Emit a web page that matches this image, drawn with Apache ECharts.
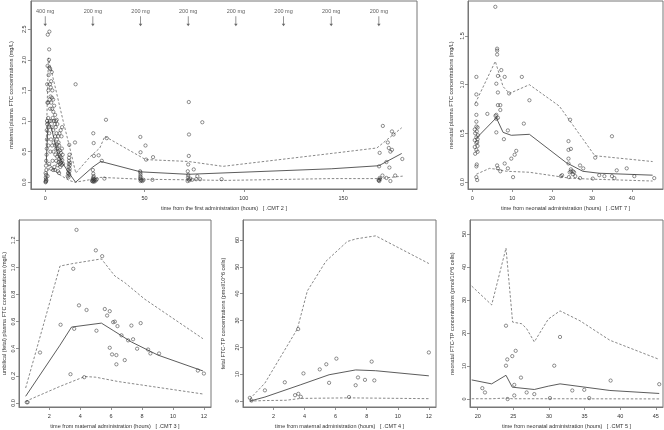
<!DOCTYPE html>
<html><head><meta charset="utf-8">
<script src="https://cdn.jsdelivr.net/npm/echarts@6/dist/echarts.min.js"></script>
<style>html,body{margin:0;padding:0;background:#fff}#c{width:664px;height:430px}</style>
</head><body><div id="c"></div>
<script>
// ---------- Panel 1: maternal plasma FTC (CMT 2) ----------
const maternalObs = [
[0.2,0.0],[0.3,0.02],[0.4,0.05],[0.3,0.08],[0.5,0.12],[0.2,0.15],[0.6,0.2],[0.4,0.27],[0.5,0.35],[0.7,0.45],[0.3,0.01],[0.6,0.03],[0.8,0.55],[0.9,0.7],[0.8,0.85],[1.0,0.95],[0.9,1.0],[1.1,1.3],[1.0,1.6],[1.2,1.9],[1.3,2.41],[2.1,2.46],
[1.5,1.3],[1.5,1.05],[1.6,1.5],[1.7,1.75],[1.6,0.6],[1.8,0.9],[1.9,2.0],[2.0,2.17],[2.1,1.87],[2.2,1.35],[2.0,0.8],[2.3,1.0],[2.4,1.6],[2.5,1.85],[2.5,1.2],[2.6,0.5],[2.7,1.4],[2.8,1.55],[2.9,0.7],[3.0,1.65],[3.0,1.3],[3.1,1.0],[3.2,0.9],[3.3,1.8],[3.4,1.38],[3.5,1.2],[3.5,0.6],[3.6,1.5],[3.7,0.35],[3.8,1.05],
[4.0,1.35],[4.0,0.85],[4.1,1.15],[4.2,0.5],[4.3,0.65],[4.4,1.0],[4.5,1.25],[4.6,0.25],[4.8,0.95],[5.0,1.1],[5.0,0.75],[5.1,0.45],[5.2,0.6],[5.3,0.9],[5.4,1.0],[5.5,0.35],[5.6,0.55],[5.7,0.8],[5.8,1.02],[5.9,0.7],[6.0,0.62],[6.0,0.42],[6.1,0.95],[6.2,0.55],[6.3,0.28],
[6.5,0.75],[6.6,0.5],[6.7,0.65],[6.8,0.33],[6.9,0.45],[7.0,0.6],[7.1,0.38],[7.2,0.8],[7.3,0.3],[7.4,0.52],[7.5,0.42],[7.6,0.25],[7.7,0.35],[7.8,0.85],[7.9,0.48],[8.0,0.32],[8.1,0.4],[8.2,0.75],[8.3,0.28],[8.4,0.55],[8.5,0.9],[8.6,0.36],[8.8,0.45],[9.0,0.3],
[1.2,0.1],[2.0,0.3],[3.0,0.22],[4.0,0.2],[5.0,0.2],[6.5,0.18],[7.0,0.15],
[11.3,0.1],[11.5,0.15],[11.6,0.2],[11.8,0.25],[11.9,0.3],[12.0,0.35],[12.1,0.12],[12.2,0.18],[12.3,0.22],[12.4,0.28],[12.0,0.4],[11.7,0.08],[12.5,0.32],[12.2,0.45],[12.1,0.61],[11.9,0.14],
[15.0,0.65],[15.3,1.6],
[23.6,0.02],[23.8,0.04],[24.0,0.01],[24.1,0.06],[24.2,0.03],[24.3,0.08],[24.5,0.02],[24.6,0.05],[24.8,0.01],[25.0,0.04],[24.4,0.1],[24.2,0.14],[24.0,0.2],[24.2,0.8],[24.4,0.64],[24.5,0.43],[26.9,0.44],[28.5,0.35],[29.8,0.06],[30.6,1.02],[31.0,0.72],[25.5,0.03],[26.0,0.05],
[47.9,0.74],[48.0,0.49],[47.8,0.18],[47.9,0.16],[48.0,0.13],[47.9,0.1],[48.1,0.08],[47.8,0.06],[48.2,0.04],[48.0,0.02],[48.5,0.03],[49.0,0.02],[49.5,0.04],[50.5,0.6],[50.8,0.37],[54.3,0.41],[54.0,0.04],
[72.3,1.31],[72.4,0.78],[72.3,0.43],[72.0,0.29],[71.8,0.18],[72.0,0.12],[71.9,0.08],[72.2,0.05],[72.5,0.03],[71.7,0.02],[73.0,0.06],[74.0,0.04],[74.8,0.21],[76.6,0.1],[76.0,0.05],[78.0,0.05],[79.1,0.98],[88.8,0.05],
[170.0,0.92],[174.6,0.83],[175.4,0.78],[172.5,0.65],[173.0,0.56],[174.6,0.53],[173.8,0.50],[168.4,0.48],[171.8,0.33],[179.8,0.38],[168.1,0.26],[173.3,0.24],[169.8,0.11],[168.4,0.07],[168.0,0.04],[168.2,0.02],[168.6,0.05],[167.9,0.03],[173.8,0.02],[176.2,0.11],[171.8,0.07]
];
const maternalMedian = [[0.5,0.3],[1.5,1.0],[3,0.9],[6,0.5],[8,0.35],[12,0.15],[15.3,0.0],[24,0.25],[28,0.34],[48,0.17],[72,0.13],[144,0.22],[168,0.27],[179.5,0.47]];
const maternalUpper = [[0.5,0.6],[1.6,2.03],[8.9,1.02],[13,0.48],[15.4,0.15],[22.7,0.42],[27.5,0.56],[30,0.75],[50.6,0.37],[72,0.34],[89.5,0.26],[144,0.47],[167,0.56],[179.5,0.89]];
const maternalLower = [[0.5,0.05],[2,0.3],[6,0.15],[12,0.03],[15,0.0],[24,0.05],[28,0.08],[48,0.05],[72,0.04],[90,0.03],[144,0.06],[168,0.06],[180,0.1]];
const doseTimes = [0,24,48,72,96,120,144,168];
const doseLabels = ['400 mg','200 mg','200 mg','200 mg','200 mg','200 mg','200 mg','200 mg'];
const xTicks1 = [0,50,100,150];
const yTicks1 = [0,0.5,1,1.5,2,2.5];

// ---------- Panel 2: neonatal plasma FTC (CMT 7) ----------
const neoObs = [
[5.75,1.80],[6.2,1.37],[6.2,1.35],[6.2,1.31],[7.25,1.15],[6.4,1.09],[8.1,1.08],[1.0,1.08],[12.4,1.08],[6.0,1.01],[1.0,0.90],[6.4,0.92],[9.2,0.91],[1.0,0.80],[14.3,0.84],[6.4,0.79],[7.0,0.79],[7.0,0.74],[3.75,0.70],[1.0,0.69],[6.0,0.69],[5.8,0.68],[6.4,0.66],[6.0,0.65],
[1.0,0.62],[1.0,0.57],[1.3,0.56],[0.6,0.54],[1.1,0.52],[0.7,0.50],[1.4,0.48],[1.0,0.46],[1.3,0.44],[0.6,0.43],[1.2,0.41],[1.0,0.40],[1.3,0.37],[0.6,0.36],[1.0,0.33],[1.3,0.31],[0.7,0.29],
[6.0,0.51],[8.9,0.53],[12.9,0.60],[7.9,0.44],[11.0,0.32],[10.6,0.28],[9.75,0.24],[8.1,0.19],[8.9,0.14],[10.2,0.05],[6.2,0.17],[6.4,0.14],[7.0,0.11],[1.1,0.18],[1.0,0.16],[1.0,0.05],[1.2,0.02],[22.2,0.06],
[24.5,0.64],[35.0,0.47],[24.1,0.42],[24.1,0.33],[24.7,0.34],[24.1,0.24],[30.8,0.25],[24.1,0.19],[24.7,0.13],[25.2,0.11],[24.7,0.11],[25.5,0.10],[25.2,0.08],[24.4,0.10],[25.8,0.06],[27.0,0.17],[27.8,0.14],[38.7,0.14],[36.2,0.12],[22.5,0.07],[24.2,0.05],[30.2,0.035],[31.8,0.07],[33.1,0.06],[35.0,0.06],[35.6,0.04],[27.0,0.04],[40.6,0.06],[45.6,0.04]
];
const neoMedian = [[1.0,0.45],[6,0.66],[7.7,0.51],[9.75,0.48],[14.3,0.49],[23.5,0.2],[27.7,0.11],[31.8,0.09],[45.2,0.07]];
const neoUpper = [[0.75,0.81],[5.75,1.24],[7.7,0.98],[9.3,0.91],[14.3,1.0],[21.8,0.78],[30.7,0.27],[45.2,0.21]];
const neoLower = [[1.0,0.08],[4.3,0.14],[6.2,0.13],[8.6,0.11],[14.3,0.1],[24.3,0.04],[29.3,0.03],[45.2,0.01]];
const xTicks2 = [0,10,20,30,40];
const yTicks2 = [0,0.5,1,1.5];

// ---------- Panel 3: umbilical (fetal) plasma FTC (CMT 3) ----------
const umbObs = [
[3.76,1.277],[5.01,1.126],[5.42,1.083],[3.55,0.99],[3.92,0.72],[4.41,0.686],[5.59,0.693],[5.91,0.677],[5.74,0.645],[6.13,0.596],[6.24,0.60],[6.41,0.567],[2.73,0.577],[3.61,0.547],[5.05,0.533],[7.31,0.571],[7.91,0.589],[6.67,0.499],[7.42,0.47],[7.1,0.462],[7.68,0.40],[5.91,0.407],[8.39,0.394],[8.54,0.365],[9.1,0.365],[6.06,0.358],[6.34,0.353],[6.88,0.316],[6.34,0.285],[1.4,0.372],[3.37,0.212],[4.26,0.19],[11.61,0.239],[12.0,0.217],[0.54,0.005],[0.6,0.005]
];
const umbMedian = [[0.47,0.049],[2.69,0.426],[3.44,0.56],[5.37,0.589],[6.13,0.535],[7.31,0.45],[9.03,0.353],[11.94,0.236]];
const umbUpper = [[0.47,0.11],[2.69,1.01],[3.44,1.027],[5.37,1.063],[6.24,0.937],[6.88,0.888],[8.17,0.766],[11.94,0.474]];
const umbLower = [[0.47,0.012],[2.69,0.122],[4.3,0.195],[5.0,0.19],[6.45,0.158],[8.6,0.122],[11.94,0.066]];
const xTicks3 = [2,4,6,8,10,12];
const yTicks3 = [0,0.2,0.4,0.6,0.8,1.0,1.2];

// ---------- Panel 4: fetal FTC-TP (CMT 4) ----------
const fetObs = [
[0.48,1.2],[0.59,0.2],[1.45,4.0],[2.73,7.0],[3.59,26.8],[3.39,2.2],[3.6,2.7],[3.76,1.6],[3.93,10.3],[4.98,11.8],[5.4,13.7],[6.05,15.8],[5.58,6.8],[6.86,1.5],[7.29,5.9],[7.44,8.8],[7.89,7.9],[8.32,14.7],[8.49,7.7],[12.0,18.1]
];
const fetMedian = [[0.48,0.0],[1.45,1.5],[3.76,6.1],[5.58,9.8],[7.29,11.6],[8.58,11.3],[12.0,9.4]];
const fetUpper = [[0.48,0.8],[1.45,6.7],[3.54,26.9],[4.18,41],[5.37,52],[6.75,59.4],[7.33,60.4],[8.58,61.5],[12.0,51.2]];
const fetLower = [[0.48,0.0],[1.45,0.2],[2.8,0.3],[3.76,1.0],[6.86,1.2],[12.0,0.9]];
const xTicks4 = [2,4,6,8,10,12];
const yTicks4 = [0,10,20,30,40,50,60];

// ---------- Panel 5: neonatal FTC-TP (CMT 5) ----------
const neoTPObs = [
[23.97,22.2],[24.15,12.0],[23.97,10.1],[24.85,13.0],[25.33,14.6],[26.07,6.5],[25.13,4.3],[20.65,3.3],[21.02,2.0],[25.13,1.1],[24.2,0.0],[26.87,2.0],[27.94,1.5],[30.74,10.1],[30.14,0.3],[31.55,18.8],[33.27,2.6],[34.95,2.8],[35.65,0.3],[38.65,5.6],[45.47,4.5]
];
const neoTPMedian = [[19.16,5.8],[21.96,4.6],[23.97,7.2],[24.85,3.6],[27.94,2.9],[29.9,3.9],[31.55,4.6],[38.55,2.6],[45.47,1.7]];
const neoTPUpper = [[19.16,34.2],[21.96,28.5],[23.97,45.7],[24.9,23.3],[26.17,22.8],[26.87,21.3],[27.94,17.3],[29.9,24.2],[31.55,26.7],[34.35,23.7],[38.55,17.8],[45.47,12.0]];
const neoTPLower = [[19.16,0.1],[21.96,0.1],[23.97,0.3],[24.85,0.1],[30,0.1],[45.47,0.05]];
const xTicks5 = [20,25,30,35,40,45];
const yTicks5 = [0,10,20,30,40,50];

// ---------- build ----------
const FONT = 'Liberation Sans';
const TXT = '#333';
const chart = echarts.init(document.getElementById('c'), null, {renderer:'canvas'});

const grids = [
  {left:17, top:1, width:400, height:188},
  {left:468, top:1, width:195, height:188},
  {left:17, top:220, width:194, height:189},
  {left:243, top:220, width:193, height:189},
  {left:470, top:220, width:193, height:189}
].map(g => Object.assign(g, {show:true, borderColor:'#777', borderWidth:1, backgroundColor:'transparent', containLabel:false}));

function xAx(i, min, max, ticks, name) {
  return {type:'value', gridIndex:i, min, max, name, nameLocation:'middle', nameGap:16,
    nameTextStyle:{fontFamily:FONT, fontSize:5.5, color:TXT},
    axisLine:{show:true, onZero:false, lineStyle:{color:'#777', width:1}},
    axisTick:{show:true, inside:false, length:3, lineStyle:{color:'#777', width:0.8}, customValues:ticks},
    axisLabel:{show:true, margin:6, fontFamily:FONT, fontSize:5.5, color:TXT, customValues:ticks, showMinLabel:true, showMaxLabel:true},
    splitLine:{show:false}};
}
function yAx(i, min, max, ticks, name, dec, gap) {
  return {type:'value', gridIndex:i, min, max, name, nameLocation:'middle', nameGap:gap, nameRotate:90,
    nameTextStyle:{fontFamily:FONT, fontSize:5.5, color:TXT},
    axisLine:{show:true, onZero:false, lineStyle:{color:'#777', width:1}},
    axisTick:{show:true, inside:false, length:3, lineStyle:{color:'#777', width:0.8}, customValues:ticks},
    axisLabel:{show:true, margin:3, rotate:90, fontFamily:FONT, fontSize:5.5, color:TXT, customValues:ticks,
      formatter: v => dec ? Number(v).toFixed(dec) : String(Math.round(v))},
    splitLine:{show:false}};
}

const xAxes = [
  xAx(0, -7.2, 187.2, xTicks1, 'time from the first administration (hours)   [ .CMT 2 ]'),
  xAx(1, -1.1, 47.8, xTicks2, 'time from neonatal administration (hours)   [ .CMT 7 ]'),
  xAx(2, 0.04, 12.46, xTicks3, 'time from maternal administration (hours)   [ .CMT 3 ]'),
  xAx(3, 0.04, 12.46, xTicks4, 'time from maternal administration (hours)   [ .CMT 4 ]'),
  xAx(4, 18.92, 46.0, xTicks5, 'time from neonatal administration (hours)   [ .CMT 5 ]')
];
const yAxes = [
  yAx(0, -0.11, 2.96, yTicks1, 'maternal plasma FTC concentrations (mg/L)', 1, 12),
  yAx(1, -0.072, 1.86, yTicks2, 'neonatal plasma FTC concentrations (mg/L)', 1, 14),
  yAx(2, -0.03, 1.35, yTicks3, 'umbilical (fetal) plasma FTC concentrations (mg/L)', 1, 12),
  yAx(3, -2.2, 67.4, yTicks4, 'fetal FTC-TP concentrations (pmol/10^6 cells)', 0, 17),
  yAx(4, -2.4, 54.2, yTicks5, 'neonatal FTC-TP concentrations (pmol/10^6 cells)', 0, 15)
];

const series = [];
function addPanel(i, obs, med, up, lo) {
  const dashStyle = {color:'#6a6a6a', width:0.8, type:[2.5,1.8]};
  [up, lo].forEach(d => series.push({type:'line', xAxisIndex:i, yAxisIndex:i, data:d, showSymbol:false, symbol:'none', lineStyle:dashStyle, z:2, silent:true}));
  series.push({type:'line', xAxisIndex:i, yAxisIndex:i, data:med, showSymbol:false, symbol:'none', lineStyle:{color:'#4a4a4a', width:0.9}, z:2, silent:true});
  series.push({type:'scatter', xAxisIndex:i, yAxisIndex:i, data:obs, symbol:'circle', symbolSize:3.3,
    itemStyle:{color:'rgba(0,0,0,0)', borderColor:'#3a3a3a', borderWidth:0.7}, z:3, silent:true});
}
addPanel(0, maternalObs, maternalMedian, maternalUpper, maternalLower);
addPanel(1, neoObs, neoMedian, neoUpper, neoLower);
addPanel(2, umbObs, umbMedian, umbUpper, umbLower);
addPanel(3, fetObs, fetMedian, fetUpper, fetLower);
addPanel(4, neoTPObs, neoTPMedian, neoTPUpper, neoTPLower);

// dose arrows along the top of panel 1
const ARROW_Y = 2.63;
series.push({type:'scatter', xAxisIndex:0, yAxisIndex:0, silent:true, z:4,
  data: doseTimes.map((t,k) => ({value:[t, ARROW_Y], label:{formatter:doseLabels[k]}})),
  symbol:'path://M-0.4,0 L0.4,0 L0.4,7.5 L2,7.5 L0,10 L-2,7.5 L-0.4,7.5 Z',
  symbolSize:[3.5,10], itemStyle:{color:'#444'},
  label:{show:true, position:'top', distance:2, fontFamily:FONT, fontSize:5.5, color:TXT}
});

chart.setOption({animation:false, backgroundColor:'#fff', grid:grids, xAxis:xAxes, yAxis:yAxes, series});
</script>
</body></html>
